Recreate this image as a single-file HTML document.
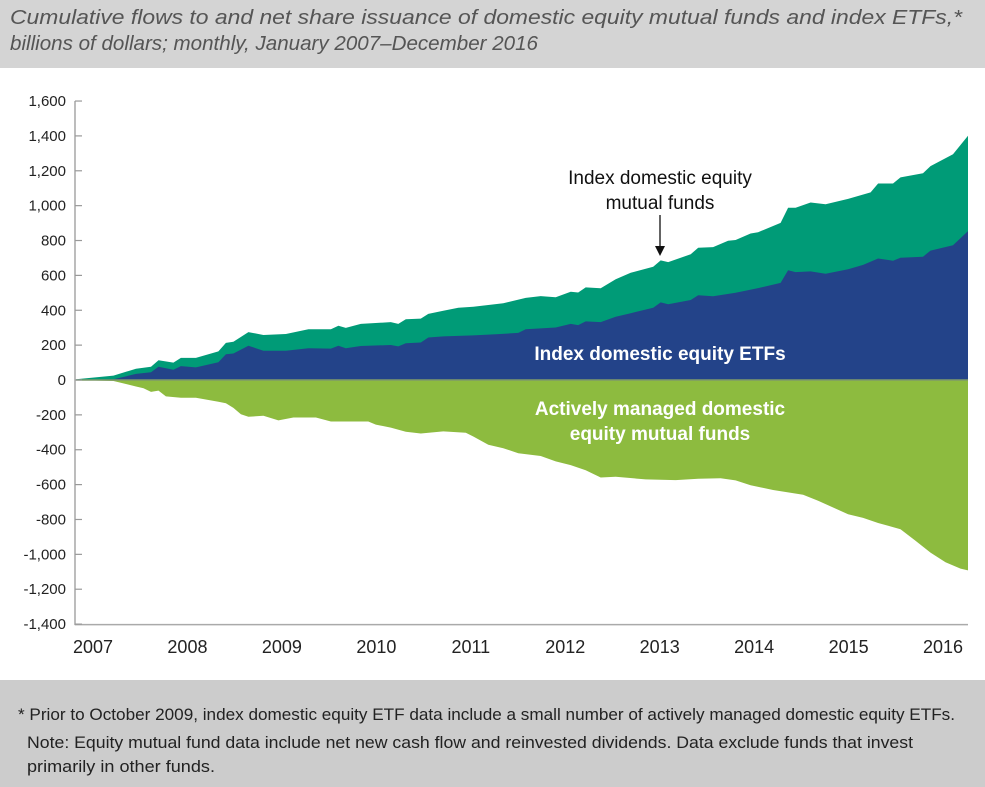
<!DOCTYPE html>
<html><head><meta charset="utf-8"><style>
body{margin:0;background:#fff;}
svg{display:block;font-family:"Liberation Sans",sans-serif;}
</style></head><body>
<svg id="chart" width="985" height="787" viewBox="0 0 985 787">
<rect x="0" y="0" width="985" height="68" fill="#d4d4d4"/>
<text x="10" y="24" font-size="20" font-style="italic" fill="#555" textLength="952" lengthAdjust="spacingAndGlyphs">Cumulative flows to and net share issuance of domestic equity mutual funds and index ETFs,*</text>
<text x="10" y="50" font-size="20" font-style="italic" fill="#555" textLength="528" lengthAdjust="spacingAndGlyphs">billions of dollars; monthly, January 2007–December 2016</text>
<g id="plot"></g>
<g id="axes"></g>
<text x="660" y="184" font-size="19" text-anchor="middle" fill="#111">Index domestic equity</text>
<text x="660" y="209" font-size="19" text-anchor="middle" fill="#111">mutual funds</text>
<line x1="660" y1="215" x2="660" y2="250" stroke="#111" stroke-width="1.3"/>
<polygon points="655,246 665,246 660,256" fill="#111"/>
<text x="660" y="360" font-size="19" font-weight="bold" text-anchor="middle" fill="#fff">Index domestic equity ETFs</text>
<text x="660" y="415" font-size="19" font-weight="bold" text-anchor="middle" fill="#fff">Actively managed domestic</text>
<text x="660" y="440" font-size="19" font-weight="bold" text-anchor="middle" fill="#fff">equity mutual funds</text>
<rect x="0" y="680" width="985" height="107" fill="#cccccc"/>
<text x="18" y="720" font-size="17" fill="#222" textLength="937" lengthAdjust="spacingAndGlyphs">* Prior to October 2009, index domestic equity ETF data include a small number of actively managed domestic equity ETFs.</text>
<text x="27" y="748" font-size="17" fill="#222" textLength="886" lengthAdjust="spacingAndGlyphs">Note: Equity mutual fund data include net new cash flow and reinvested dividends. Data exclude funds that invest</text>
<text x="27" y="772" font-size="17" fill="#222" textLength="188" lengthAdjust="spacingAndGlyphs">primarily in other funds.</text>
</svg>
<script>
// months since Jan 2007 and cumulative values (billions)
const totalMonths = [0,5,8,10,11,13,14,16,19,20,21,23,25,28,31,34,35,36,38,42,43,44,46,47,49,51,53,57,60,62,64,66,67,68,70,72,74,77,78,79,82,83,85,87,88,90,91,94,95,96,98,100,103,106,107,109,110,113,114,117,119];
const totalValues = [4,25,65,76,113,100,127,127,164,213,219,275,258,264,291,291,311,299,322,332,322,348,352,379,397,414,420,440,471,481,475,506,502,531,526,578,615,650,686,676,721,758,762,799,803,840,848,901,988,988,1018,1008,1039,1076,1127,1127,1162,1186,1227,1295,1401];
const etfMonths = [0,5,8,10,11,13,14,16,19,20,21,23,25,28,31,34,35,36,38,42,43,44,46,47,49,53,56,59,60,64,66,67,68,70,72,74,77,78,79,82,83,85,88,91,94,95,96,98,100,103,105,107,109,110,113,114,117,119];
const etfValues = [0,4,35,45,76,59,80,72,102,148,152,197,168,168,182,180,197,182,195,201,193,211,215,244,250,256,262,270,291,301,322,315,336,332,363,383,414,445,434,459,486,480,500,527,557,629,619,623,609,635,660,697,684,701,707,742,773,854];
const activeMonths = [0,5,8,9,10,11,12,14,16,19,20,21,22,23,25,27,29,32,34,39,40,42,44,46,49,52,53,55,57,59,62,64,66,68,70,72,76,80,83,86,88,90,93,97,99,103,105,107,110,112,114,116,118,119];
const activeValues = [0,-6,-37,-47,-68,-61,-94,-102,-102,-125,-133,-160,-197,-211,-205,-232,-215,-215,-238,-238,-256,-273,-297,-307,-295,-303,-324,-371,-391,-420,-436,-467,-488,-518,-559,-555,-570,-574,-566,-563,-576,-604,-631,-658,-693,-770,-791,-820,-856,-922,-990,-1045,-1082,-1092];
const yTicks = [1600,1400,1200,1000,800,600,400,200,0,-200,-400,-600,-800,-1000,-1200,-1400];
const yearLabels = ['2007','2008','2009','2010','2011','2012','2013','2014','2015','2016'];

const NS = 'http://www.w3.org/2000/svg';
const X0 = 76, X1 = 968, Y0 = 380, PX_PER_UNIT = 34.87/200;
function xScale(m){ return X0 + m*(X1-X0)/119; }
function yScale(v){ return Y0 - v*PX_PER_UNIT; }
function mk(tag, attrs, parent){ const e=document.createElementNS(NS,tag); for(const k in attrs) e.setAttribute(k,attrs[k]); parent.appendChild(e); return e; }
function areaPath(ms, vs){
  let d = 'M'+xScale(ms[0]).toFixed(1)+','+yScale(0).toFixed(1);
  for(let i=0;i<ms.length;i++) d += ' L'+xScale(ms[i]).toFixed(1)+','+yScale(vs[i]).toFixed(1);
  d += ' L'+xScale(ms[ms.length-1]).toFixed(1)+','+yScale(0).toFixed(1)+' Z';
  return d;
}
const plot = document.getElementById('plot');
const axes = document.getElementById('axes');
const a1 = mk('path',{d:areaPath(totalMonths,totalValues),fill:'#009b77'},plot);


const a2 = mk('path',{d:areaPath(etfMonths,etfValues),fill:'#234389'},plot);


const a3 = mk('path',{d:areaPath(activeMonths,activeValues),fill:'#8dbb3f'},plot);


const zl = mk('line',{x1:X0,x2:X1,y1:yScale(0),y2:yScale(0),stroke:'#7f9a6a','stroke-width':1.5},plot);



const yAxis = mk('line',{x1:75,x2:75,y1:yScale(1600),y2:yScale(-1400)+1,stroke:'#999','stroke-width':1.3},axes);


const xAxis = mk('line',{x1:75,x2:968,y1:yScale(-1400)+0.5,y2:yScale(-1400)+0.5,stroke:'#aaa','stroke-width':1.5},axes);


yTicks.forEach(v=>{
  const y = yScale(v);
  const t = mk('line',{x1:75,x2:82,y1:y,y2:y,stroke:'#999','stroke-width':1.2},axes);
  
  
  const lb = mk('text',{x:66,y:y+5,'font-size':15,'text-anchor':'end',fill:'#222'},axes);
  lb.textContent = v.toLocaleString('en-US');
  
  
});
yearLabels.forEach((yr,i)=>{
  const lb = mk('text',{x:93+i*94.45,y:653,'font-size':18,'text-anchor':'middle',fill:'#222'},axes);
  lb.textContent = yr;
  
  
});
</script>
</body></html>
